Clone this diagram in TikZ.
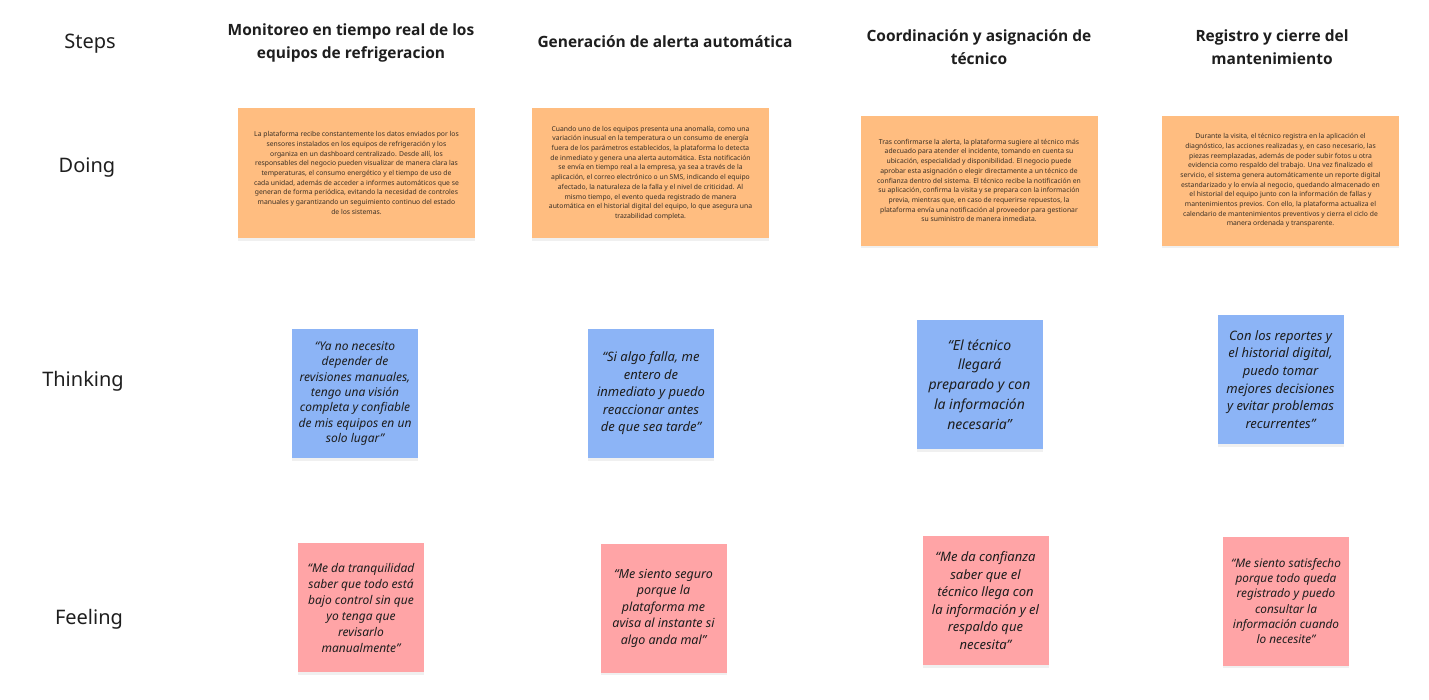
\documentclass[tikz,border=0pt]{standalone}
\usepackage{fontspec}
\setmainfont{Noto Sans}
\newfontfamily\titlefont{Open Sans}
\usetikzlibrary{shadows}
\definecolor{stickyorange}{HTML}{FFBD80}
\definecolor{stickyblue}{HTML}{8CB4F6}
\definecolor{stickyred}{HTML}{FFA4A6}
\definecolor{inktext}{HTML}{1E1E1E}
\definecolor{smalltext}{HTML}{3A3026}
\tikzset{
  rowlabel/.style={text=inktext, font=\fontsize{20}{24}\selectfont, inner sep=0pt, anchor=center},
  coltitle/.style={text=inktext, font=\titlefont\bfseries\fontsize{15.5}{23}\selectfont, align=center, inner sep=0pt, anchor=center},
  sticky/.style={draw=none, inner sep=0pt, anchor=center, align=center,
     drop shadow={shadow xshift=0pt, shadow yshift=-2.5pt, opacity=0.06, fill=black}},
  doingbox/.style={sticky, fill=stickyorange, minimum width=237pt, minimum height=130pt,
     text=smalltext, font=\fontsize{6.8}{9.7}\selectfont},
  thinkbox/.style={sticky, fill=stickyblue, minimum width=126pt, minimum height=129pt, text=inktext},
  feelbox/.style={sticky, fill=stickyred, minimum width=126pt, minimum height=129pt, text=inktext},
}
\begin{document}
\begin{tikzpicture}[x=1pt,y=-1pt]
\useasboundingbox[fill=white] (0,0) rectangle (1429,699);

% row labels
\node[rowlabel] (lsteps) at (90,43.5) {Steps};
\node[rowlabel] (ldoing) at (87,167.5) {Doing};
\node[rowlabel] (lthink) at (83,381.5) {Thinking};
\node[rowlabel] (lfeel) at (89,619.5) {Feeling};

% column titles
\node[coltitle] (t1) at (351,42.5) {Monitoreo en tiempo real de los\\equipos de refrigeracion};
\node[coltitle] (t2) at (665,42) {Generación de alerta automática};
\node[coltitle] (t3) at (979,47.5) {Coordinación y asignación de\\técnico};
\node[coltitle] (t4) at (1272,47.5) {Registro y cierre del\\mantenimiento};

% doing
\node[doingbox] (d1) at (356.5,173) {La plataforma recibe constantemente los datos enviados por los\\
sensores instalados en los equipos de refrigeración y los\\
organiza en un dashboard centralizado. Desde allí, los\\
responsables del negocio pueden visualizar de manera clara las\\
temperaturas, el consumo energético y el tiempo de uso de\\
cada unidad, además de acceder a informes automáticos que se\\
generan de forma periódica, evitando la necesidad de controles\\
manuales y garantizando un seguimiento continuo del estado\\
de los sistemas.};
\node[doingbox] (d2) at (650.5,173) {Cuando uno de los equipos presenta una anomalía, como una\\
variación inusual en la temperatura o un consumo de energía\\
fuera de los parámetros establecidos, la plataforma lo detecta\\
de inmediato y genera una alerta automática. Esta notificación\\
se envía en tiempo real a la empresa, ya sea a través de la\\
aplicación, el correo electrónico o un SMS, indicando el equipo\\
afectado, la naturaleza de la falla y el nivel de criticidad. Al\\
mismo tiempo, el evento queda registrado de manera\\
automática en el historial digital del equipo, lo que asegura una\\
trazabilidad completa.};
\node[doingbox] (d3) at (979,180.5) {Tras confirmarse la alerta, la plataforma sugiere al técnico más\\
adecuado para atender el incidente, tomando en cuenta su\\
ubicación, especialidad y disponibilidad. El negocio puede\\
aprobar esta asignación o elegir directamente a un técnico de\\
confianza dentro del sistema. El técnico recibe la notificación en\\
su aplicación, confirma la visita y se prepara con la información\\
previa, mientras que, en caso de requerirse repuestos, la\\
plataforma envía una notificación al proveedor para gestionar\\
su suministro de manera inmediata.};
\node[doingbox] (d4) at (1280.5,180.5) {Durante la visita, el técnico registra en la aplicación el\\
diagnóstico, las acciones realizadas y, en caso necesario, las\\
piezas reemplazadas, además de poder subir fotos u otra\\
evidencia como respaldo del trabajo. Una vez finalizado el\\
servicio, el sistema genera automáticamente un reporte digital\\
estandarizado y lo envía al negocio, quedando almacenado en\\
el historial del equipo junto con la información de fallas y\\
mantenimientos previos. Con ello, la plataforma actualiza el\\
calendario de mantenimientos preventivos y cierra el ciclo de\\
manera ordenada y transparente.};

% thinking
\node[thinkbox, font=\itshape\fontsize{12}{15.3}\selectfont] (th1) at (355,393.5) {“Ya no necesito\\depender de\\revisiones manuales,\\tengo una visión\\completa y confiable\\de mis equipos en un\\solo lugar”};
\node[thinkbox, font=\itshape\fontsize{13}{17.5}\selectfont] (th2) at (651,393.5) {“Si algo falla, me\\entero de\\inmediato y puedo\\reaccionar antes\\de que sea tarde”};
\node[thinkbox, font=\itshape\fontsize{14}{19.8}\selectfont] (th3) at (979.5,384.5) {“El técnico\\llegará\\preparado y con\\la información\\necesaria”};
\node[thinkbox, font=\itshape\fontsize{13}{17.6}\selectfont] (th4) at (1280.5,379.5) {Con los reportes y\\el historial digital,\\puedo tomar\\mejores decisiones\\y evitar problemas\\recurrentes”};

% feeling
\node[feelbox, font=\itshape\fontsize{12}{16}\selectfont] (f1) at (361,607.5) {“Me da tranquilidad\\saber que todo está\\bajo control sin que\\yo tenga que\\revisarlo\\manualmente”};
\node[feelbox, font=\itshape\fontsize{12.5}{16.5}\selectfont] (f2) at (663.5,608) {“Me siento seguro\\porque la\\plataforma me\\avisa al instante si\\algo anda mal”};
\node[feelbox, font=\itshape\fontsize{13}{17.5}\selectfont] (f3) at (985.5,600.5) {“Me da confianza\\saber que el\\técnico llega con\\la información y el\\respaldo que\\necesita”};
\node[feelbox, font=\itshape\fontsize{11.8}{15.2}\selectfont] (f4) at (1286,601) {“Me siento satisfecho\\porque todo queda\\registrado y puedo\\consultar la\\información cuando\\lo necesite”};
\end{tikzpicture}
\end{document}
